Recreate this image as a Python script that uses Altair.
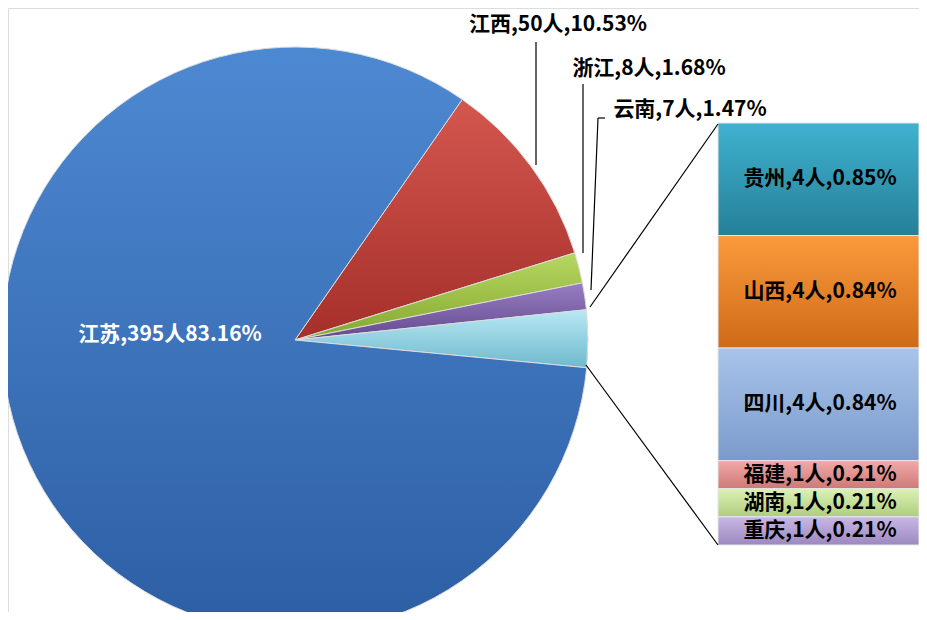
import math
import altair as alt
import pandas as pd

# ---- data ----
pie_cats = ["江西", "浙江", "云南", "其他", "江苏"]
pie_vals = [50, 8, 7, 15, 395]
pie_labels = ["江西,50人,10.53%", "浙江,8人,1.68%", "云南,7人,1.47%", "", "江苏,395人83.16%"]
pie_light = ["#d4574f", "#b6d862", "#977dc2", "#b8e8f4", "#4d89d2"]
pie_dark = ["#a52f2a", "#84a72f", "#634a8e", "#6fb9cd", "#2d5ea4"]

bar_cats = ["贵州", "山西", "四川", "福建", "湖南", "重庆"]
bar_vals = [4, 4, 4, 1, 1, 1]
bar_labels = ["贵州,4人,0.85%", "山西,4人,0.84%", "四川,4人,0.84%",
              "福建,1人,0.21%", "湖南,1人,0.21%", "重庆,1人,0.21%"]
bar_light = ["#3fb2cf", "#fa9a3c", "#a8c4ea", "#f2aaa8", "#ddf1b6", "#c8b8e4"]
bar_dark = ["#267f98", "#cf6a17", "#7b9acb", "#cd7977", "#aecd7d", "#9c88c0"]

# ---- tables ----
pie_df = pd.DataFrame({"cat": pie_cats, "v": pie_vals, "label": pie_labels,
                       "ord": list(range(len(pie_cats)))})
bar_df = pd.DataFrame({"cat": bar_cats, "v": bar_vals, "label": bar_labels,
                       "ord": list(range(len(bar_cats)))[::-1]})

FONT = "Noto Sans CJK SC"
FS = 21
CX, CY, R = 287, 332, 293
START = math.radians(34.8)
pie_total = sum(pie_vals)
bar_total = sum(bar_vals)
theta_scale = alt.Scale(domain=[0, pie_total], range=[START, START + 2 * math.pi])
yscale = alt.Scale(domain=[0, bar_total], range=[537, 115])


def grad(light, dark):
    return alt.Gradient(gradient="linear", x1=0, y1=0, x2=0, y2=1,
                        stops=[alt.GradientStop(offset=0, color=light),
                               alt.GradientStop(offset=1, color=dark)])


def pie_slice(i):
    return alt.Chart(pie_df).transform_stack(
        stack="v", groupby=[], as_=["t0", "t1"], sort=[alt.SortField("ord", order="ascending")]
    ).transform_filter(alt.datum.cat == pie_cats[i]).mark_arc(
        radius=R, stroke="#dcdcdc", strokeWidth=1, color=grad(pie_light[i], pie_dark[i])
    ).encode(
        theta=alt.Theta("t0:Q", scale=theta_scale),
        theta2="t1:Q",
        x=alt.value(CX), y=alt.value(CY),
    )


def bar_seg(i):
    return alt.Chart(bar_df).transform_stack(
        stack="v", groupby=[], as_=["y0", "y1"], sort=[alt.SortField("ord", order="ascending")]
    ).transform_filter(alt.datum.cat == bar_cats[i]).mark_rect(
        stroke="#e6e6e6", strokeWidth=1, color=grad(bar_light[i], bar_dark[i])
    ).encode(
        y=alt.Y("y0:Q", scale=yscale, axis=None),
        y2="y1:Q",
        x=alt.value(710), x2=alt.value(911),
    )


bar_text = alt.Chart(bar_df).transform_stack(
    stack="v", groupby=[], as_=["y0", "y1"], sort=[alt.SortField("ord", order="ascending")]
).transform_calculate(mid="(datum.y0 + datum.y1) / 2").mark_text(
    font=FONT, fontSize=FS, fontWeight="bold", color="black", baseline="middle"
).encode(
    y=alt.Y("mid:Q", scale=yscale, axis=None),
    x=alt.value(812),
    text="label:N",
)


def pie_label(cat, x, y, color="black"):
    return alt.Chart(pie_df).transform_filter(alt.datum.cat == cat).mark_text(
        font=FONT, fontSize=FS, fontWeight="bold", color=color, baseline="middle"
    ).encode(x=alt.value(x), y=alt.value(y), text="label:N")


def seg(x1, y1, x2, y2):
    return alt.Chart(pie_df).transform_filter(alt.datum.ord == 0).mark_rule(
        color="black", strokeWidth=1.2
    ).encode(x=alt.value(x1), y=alt.value(y1), x2=alt.value(x2), y2=alt.value(y2))


layers = [pie_slice(i) for i in range(len(pie_cats))]
layers += [bar_seg(i) for i in range(len(bar_cats))]
layers += [
    bar_text,
    pie_label("江西", 550, 17),
    pie_label("浙江", 641, 61),
    pie_label("云南", 682, 102),
    pie_label("江苏", 162, 327, "white"),
    seg(528, 34, 528, 157),
    seg(575, 76, 575, 245),
    seg(597, 110, 590, 110),
    seg(590, 110, 583, 282),
    seg(582, 299, 710, 116),
    seg(578, 357, 710, 537),
]

chart = alt.layer(*layers).properties(
    width=911, height=604, autosize=alt.AutoSizeParams(type="none"), padding=0
).configure_view(stroke=None).configure(background="white")

chart.save("out.html", embed_options={"renderer": "svg", "actions": False})
